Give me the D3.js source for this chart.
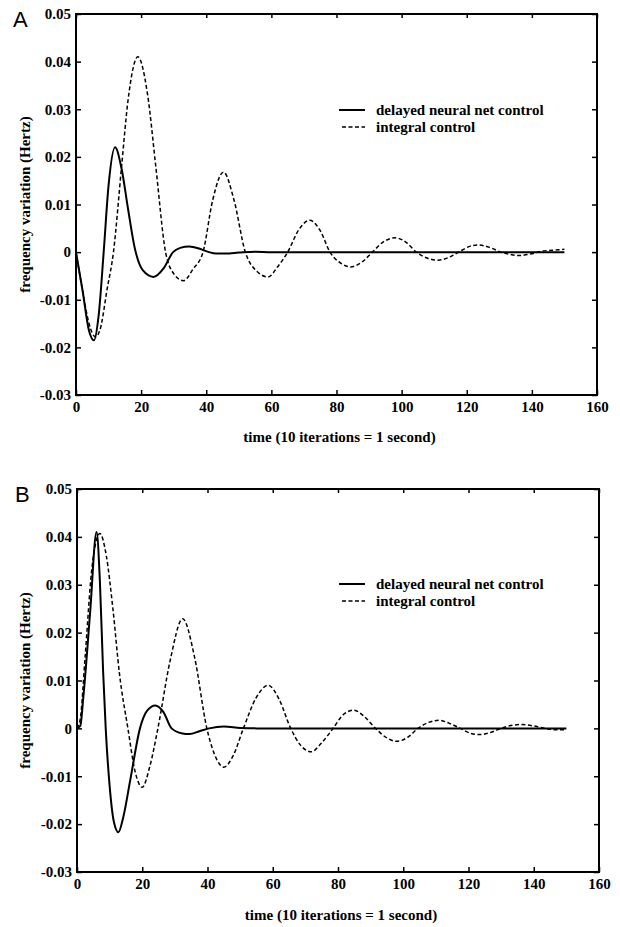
<!DOCTYPE html>
<meta charset="utf-8">
<style>
  body { margin: 0; background: #fff; }
  text {
    font-family: "Liberation Serif", "Times New Roman", serif;
    font-weight: bold;
    font-size: 15px;
    fill: #000;
  }
  .panel-label {
    font-family: "Liberation Sans", Arial, sans-serif;
    font-weight: normal;
    font-size: 22px;
  }
  .axis line { stroke: #000; stroke-width: 1.5; }
  .box { fill: none; stroke: #000; stroke-width: 2; }
  .neural { fill: none; stroke: #000; stroke-width: 2; }
  .integral { fill: none; stroke: #000; stroke-width: 1.5; stroke-dasharray: 4,2.5; }
</style>

<svg id="chart" width="620" height="927"></svg>

<script src="https://d3js.org/d3.v7.min.js"></script>
<script>

  var xTicks = [0, 20, 40, 60, 80, 100, 120, 140, 160];
  var yTicks = [-0.03, -0.02, -0.01, 0, 0.01, 0.02, 0.03, 0.04, 0.05];
  var seriesNames = ["delayed neural net control", "integral control"];
  var xTitle = "time (10 iterations = 1 second)";
  var yTitle = "frequency variation (Hertz)";

  // panel A, [time, frequency variation]
  var neuralA = [
    [0, 0], [2, -0.008], [4, -0.0165], [5.5, -0.0185], [7, -0.013], [8.5, 0],
    [10, 0.014], [12, 0.022], [14, 0.0175], [16, 0.009], [18, 0.001],
    [20.5, -0.0038], [23.8, -0.0052], [27, -0.0033], [29.8, 0],
    [32, 0.0009], [34.8, 0.0012], [38, 0.0007], [40.8, 0],
    [43, -0.0003], [46, -0.0003], [50, -0.0001], [55, 0.0001], [60, 0],
    [100, 0], [150, 0]
  ];
  var integralA = [
    [0, 0], [2, -0.008], [4, -0.015], [6, -0.0178], [7.5, -0.016], [9.5, -0.008],
    [11.5, 0], [14, 0.018], [16, 0.032], [19, 0.041], [22, 0.033], [24.5, 0.018],
    [27.5, 0], [30, -0.0045], [33, -0.006], [36, -0.0035],
    [39, 0], [42, 0.011], [45.3, 0.0168], [48.5, 0.011], [52, 0],
    [55.5, -0.004], [59, -0.0052], [62, -0.003], [65, 0],
    [68.5, 0.0048], [71.8, 0.0067], [75, 0.0045], [78, 0],
    [81.5, -0.0024], [84.3, -0.0031], [88, -0.002], [91, 0],
    [94.5, 0.0022], [98, 0.003], [101.5, 0.002], [104.5, 0],
    [108, -0.0013], [111.2, -0.0017], [114.5, -0.0011], [117.5, 0],
    [120.5, 0.0011], [123.5, 0.0015], [127, 0.001], [130.5, 0],
    [133.5, -0.0005], [136, -0.0007], [139.5, -0.0004], [143, 0.0002],
    [146.5, 0.0004], [150, 0.0006]
  ];

  // panel B
  var neuralB = [
    [0, 0], [1, 0.0005], [2, 0.007], [4, 0.024], [6, 0.041], [7, 0.031],
    [8, 0.012], [8.8, 0], [10, -0.012], [11.3, -0.0195], [12.7, -0.0217],
    [14.2, -0.0185], [16.4, -0.0105], [19.3, 0], [21.5, 0.0037], [24, 0.0048],
    [26.5, 0.0034], [29, 0], [32, -0.001], [34.5, -0.0012], [37.5, -0.0006],
    [40.5, 0], [45, 0.0004], [50, 0.0001], [55, 0], [100, 0], [150, 0]
  ];
  var integralB = [
    [0, 0], [1, 0.002], [2.5, 0.015], [4.5, 0.033], [7, 0.0407], [9, 0.036],
    [11, 0.025], [13, 0.0115], [15.6, 0], [17.8, -0.009], [20, -0.0123],
    [22.3, -0.008], [24.8, 0], [28.5, 0.014], [32.4, 0.0229], [36, 0.015],
    [39.8, 0], [42.2, -0.0055], [45, -0.0081], [48, -0.0055], [51, 0],
    [55, 0.0065], [58.6, 0.009], [62, 0.006], [65.5, 0],
    [68.5, -0.0035], [71.8, -0.0049], [75, -0.003], [78.5, 0],
    [81.5, 0.0028], [84.8, 0.0038], [88, 0.0025], [91.5, 0],
    [95, -0.002], [98, -0.0027], [101.5, -0.0018], [104.5, 0],
    [108, 0.0013], [111, 0.0017], [114, 0.0011], [117.5, 0],
    [120.5, -0.001], [123.6, -0.0013], [127, -0.0008], [130, 0],
    [133, 0.0006], [136.4, 0.0008], [140, 0.0005], [143.5, 0],
    [147, -0.0003], [150, -0.0003]
  ];

  var panels = [
    { label: "A", neural: neuralA, integral: integralA,
      left: 76, right: 597, top: 14, bottom: 395,
      labelX: 13, labelY: 27, legendY: 110, xTitleY: 442 },
    { label: "B", neural: neuralB, integral: integralB,
      left: 77, right: 599, top: 489, bottom: 872,
      labelX: 15, labelY: 502, legendY: 584, xTitleY: 920 }
  ];

  var svg = d3.select("#chart");

  function fmtY(d) {
    return d === 0 ? "0" : d3.format(".2f")(d).replace("\u2212", "-");
  }

  panels.forEach(function (p) {
    var x = d3.scaleLinear().domain([0, 160]).range([p.left, p.right]);
    var y = d3.scaleLinear().domain([-0.03, 0.05]).range([p.bottom, p.top]);
    var g = svg.append("g");

    // ticks on all four sides, pointing inwards
    g.append("g")
        .attr("class", "axis")
        .attr("transform", "translate(0," + p.bottom + ")")
        .call(d3.axisBottom(x).tickValues(xTicks).tickSize(-5).tickPadding(6.5).tickFormat(d3.format("d")));
    g.append("g")
        .attr("class", "axis")
        .attr("transform", "translate(0," + p.top + ")")
        .call(d3.axisTop(x).tickValues(xTicks).tickSize(-4).tickFormat(""));
    g.append("g")
        .attr("class", "axis")
        .attr("transform", "translate(" + p.left + ",0)")
        .call(d3.axisLeft(y).tickValues(yTicks).tickSize(-5).tickPadding(5).tickFormat(fmtY));
    g.append("g")
        .attr("class", "axis")
        .attr("transform", "translate(" + p.right + ",0)")
        .call(d3.axisRight(y).tickValues(yTicks).tickSize(-5).tickFormat(""));
    g.selectAll(".domain").remove();
    g.selectAll(".axis").attr("font-size", null).attr("font-family", null);

    g.append("rect")
        .attr("class", "box")
        .attr("x", p.left)
        .attr("y", p.top)
        .attr("width", p.right - p.left)
        .attr("height", p.bottom - p.top);

    var line = d3.line()
        .x(function (d) { return x(d[0]); })
        .y(function (d) { return y(d[1]); })
        .curve(d3.curveMonotoneX);

    g.append("path").attr("class", "integral").attr("d", line(p.integral));
    g.append("path").attr("class", "neural").attr("d", line(p.neural));

    // legend
    var lg = g.append("g").attr("transform", "translate(0," + p.legendY + ")");
    lg.append("line").attr("class", "neural")
        .attr("x1", 339).attr("x2", 365).attr("y1", 0).attr("y2", 0);
    lg.append("line").attr("class", "integral")
        .attr("x1", 342).attr("x2", 365).attr("y1", 17).attr("y2", 17);
    lg.selectAll("text.leg")
        .data(seriesNames)
        .enter().append("text")
        .attr("class", "leg")
        .attr("x", 376)
        .attr("y", function (d, i) { return i * 17 + 5; })
        .text(function (d) { return d; });

    g.append("text")
        .attr("x", (p.left + p.right) / 2 + 3)
        .attr("y", p.xTitleY)
        .attr("text-anchor", "middle")
        .text(xTitle);

    g.append("text")
        .attr("transform", "translate(30," + (p.top + p.bottom) / 2 + ") rotate(-90)")
        .attr("text-anchor", "middle")
        .text(yTitle);

    g.append("text")
        .attr("class", "panel-label")
        .attr("x", p.labelX)
        .attr("y", p.labelY)
        .text(p.label);
  });

</script>
